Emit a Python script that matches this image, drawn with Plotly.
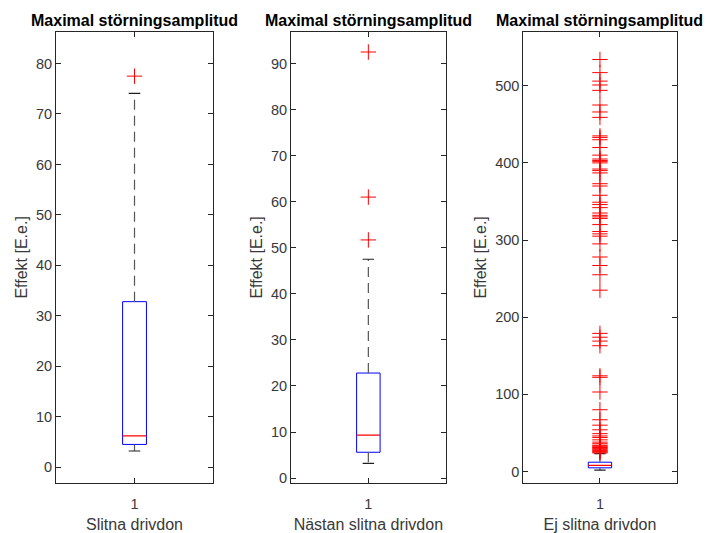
import plotly.graph_objects as go

# ---- data ----
categories = ["Slitna drivdon", "Nästan slitna drivdon", "Ej slitna drivdon"]
title_text = "Maximal störningsamplitud"
ylabel_text = "Effekt [E.e.]"
q1 = [4.5, 5.6, 4.7]
medians = [6.2, 9.3, 8.0]
q3 = [32.8, 22.8, 12.0]
lower_whisker = [3.2, 3.2, 1.7]
upper_whisker = [74.1, 47.5, 23.0]
outliers_1 = [77.5]
outliers_2 = [51.7, 61.0, 92.5]
outliers_3 = [534, 517, 506, 501, 494, 475, 466, 459, 435, 433, 430, 420, 410,
              405, 403, 402, 400, 392, 390, 387, 373, 370, 358, 349, 346, 342,
              335, 332, 330, 328, 320, 311, 308, 305, 295, 278, 267, 255, 235,
              179, 174, 169, 163, 124, 122, 103, 80, 67, 60, 54, 49, 46, 44, 41,
              38, 36, 34, 33, 32, 31, 30, 29, 28, 27, 26, 25, 24]
outliers = [outliers_1, outliers_2, outliers_3]
y_ranges = [[-3.15, 86.3], [-1.08, 96.9], [-15, 570]]
y_ticks = [list(range(0, 81, 10)), list(range(0, 91, 10)), list(range(0, 501, 100))]
x_tick_label = "1"

# ---- styling ----
FONT = "Liberation Sans, Arial, sans-serif"
AX = "#262626"
TXT = "#383838"
x_domains = [[0.0789, 0.300], [0.4099, 0.6277], [0.737, 0.953]]
y_domain = [0.0869, 0.94]
half_box = 0.076
half_cap = 0.037

fig = go.Figure()
layout = dict(
    width=710, height=533, margin=dict(l=0, r=0, t=0, b=0),
    paper_bgcolor="white", plot_bgcolor="white", showlegend=False,
    font=dict(family=FONT, color=TXT, size=14),
)
annotations = []
for i in range(3):
    xa = "x" if i == 0 else f"x{i+1}"
    ya = "y" if i == 0 else f"y{i+1}"
    # box
    fig.add_trace(go.Scatter(
        x=[1 - half_box, 1 + half_box, 1 + half_box, 1 - half_box, 1 - half_box],
        y=[q1[i], q1[i], q3[i], q3[i], q1[i]],
        mode="lines", line=dict(color="#0000ff", width=1),
        xaxis=xa, yaxis=ya, hoverinfo="skip"))
    # whiskers
    for a, b in [(q3[i], upper_whisker[i]), (q1[i], lower_whisker[i])]:
        fig.add_trace(go.Scatter(
            x=[1, 1], y=[a, b], mode="lines",
            line=dict(color="#555555", width=1.2, dash="10px,6px"),
            xaxis=xa, yaxis=ya, hoverinfo="skip"))
    # caps
    for w in [upper_whisker[i], lower_whisker[i]]:
        fig.add_trace(go.Scatter(
            x=[1 - half_cap, 1 + half_cap], y=[w, w], mode="lines",
            line=dict(color="#202020", width=1.2),
            xaxis=xa, yaxis=ya, hoverinfo="skip"))
    # median
    fig.add_trace(go.Scatter(
        x=[1 - half_box, 1 + half_box], y=[medians[i], medians[i]], mode="lines",
        line=dict(color="#ff0000", width=1.2),
        xaxis=xa, yaxis=ya, hoverinfo="skip"))
    # outliers
    fig.add_trace(go.Scatter(
        x=[1] * len(outliers[i]), y=outliers[i], mode="markers",
        marker=dict(symbol="cross-thin", size=11,
                    line=dict(color="#ff0000", width=1), color="#ff0000"),
        xaxis=xa, yaxis=ya, hoverinfo="skip"))

    xkey = "xaxis" if i == 0 else f"xaxis{i+1}"
    ykey = "yaxis" if i == 0 else f"yaxis{i+1}"
    layout[xkey] = dict(
        domain=x_domains[i], anchor=ya, range=[0.5, 1.5],
        tickvals=[1], ticktext=[x_tick_label], ticks="inside", ticklen=5,
        tickcolor=AX, showline=True, linecolor=AX, linewidth=1, mirror="ticks",
        showgrid=False, zeroline=False, tickfont=dict(size=14.5, color=TXT),
        ticklabelstandoff=8,
        title=dict(text=categories[i], font=dict(size=16, color=TXT), standoff=9),
    )
    layout[ykey] = dict(
        domain=y_domain, anchor=xa, range=y_ranges[i],
        tickvals=y_ticks[i], ticks="inside", ticklen=5, tickcolor=AX,
        showline=True, linecolor=AX, linewidth=1, mirror="ticks",
        showgrid=False, zeroline=False, tickfont=dict(size=14.5, color=TXT),
        title=dict(text=ylabel_text, font=dict(size=16, color=TXT), standoff=4),
    )
    annotations.append(dict(
        text="<b>" + title_text + "</b>", xref="paper", yref="paper",
        x=(x_domains[i][0] + x_domains[i][1]) / 2, y=y_domain[1],
        xanchor="center", yanchor="bottom", yshift=1, showarrow=False,
        font=dict(size=16, color="black", family=FONT)))

layout["annotations"] = annotations
fig.update_layout(**layout)
fig.write_html("out.html")
